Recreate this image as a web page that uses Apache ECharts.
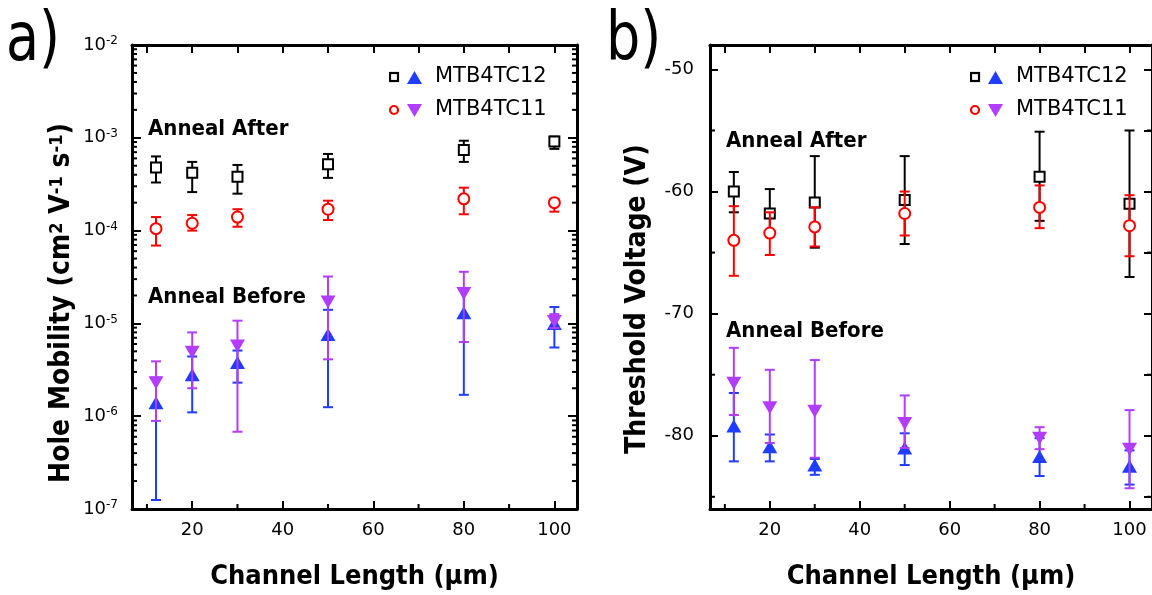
<!DOCTYPE html>
<html><head><meta charset="utf-8">
<script src="https://cdn.jsdelivr.net/npm/echarts@6/dist/echarts.min.js"></script>
<style>html,body{margin:0;padding:0;background:#fff}#c{width:1152px;height:595px}</style>
</head><body><div id="c"></div>
<script>
// ---------- data ----------
const lengths = [12, 20, 30, 50, 80, 100];

// (a) hole mobility, cm2 V-1 s-1
const mob12After   = [4.8e-4, 4.2e-4, 3.8e-4, 5.2e-4, 7.4e-4, 9.1e-4];
const mob12AfterLo = [3.3e-4, 2.6e-4, 2.5e-4, 3.7e-4, 5.5e-4, 7.6e-4];
const mob12AfterHi = [6.3e-4, 5.5e-4, 5.1e-4, 6.7e-4, 9.3e-4, 1.03e-3];
const mob11After   = [1.05e-4, 1.2e-4, 1.4e-4, 1.7e-4, 2.2e-4, 2.0e-4];
const mob11AfterLo = [6.9e-5, 1.0e-4, 1.1e-4, 1.3e-4, 1.5e-4, 1.6e-4];
const mob11AfterHi = [1.4e-4, 1.47e-4, 1.7e-4, 2.1e-4, 2.9e-4, 2.2e-4];
const mob12Before   = [1.4e-6, 2.8e-6, 3.8e-6, 7.6e-6, 1.3e-5, 1.0e-5];
const mob12BeforeLo = [1.25e-7, 1.1e-6, 2.3e-6, 1.25e-6, 1.7e-6, 5.5e-6];
const mob12BeforeHi = [2.6e-6, 4.4e-6, 5.1e-6, 1.4e-5, 2.3e-5, 1.5e-5];
const mob11Before   = [2.3e-6, 4.9e-6, 5.7e-6, 1.7e-5, 2.1e-5, 1.05e-5];
const mob11BeforeLo = [8.9e-7, 2.0e-6, 6.8e-7, 4.1e-6, 6.3e-6, 8.9e-6];
const mob11BeforeHi = [3.9e-6, 8.0e-6, 1.07e-5, 3.2e-5, 3.6e-5, 1.26e-5];

// (b) threshold voltage, V
const vt12After   = [-60.0, -61.8, -60.9, -60.7, -58.8, -61.0];
const vt12AfterLo = [-61.7, -63.6, -64.6, -64.3, -62.4, -67.0];
const vt12AfterHi = [-58.4, -59.8, -57.1, -57.1, -55.1, -55.0];
const vt11After   = [-64.0, -63.4, -62.9, -61.8, -61.3, -62.8];
const vt11AfterLo = [-66.9, -65.2, -64.5, -63.6, -63.0, -65.3];
const vt11AfterHi = [-61.2, -61.7, -61.3, -60.0, -59.5, -60.3];
const vt11Before   = [-75.7, -77.7, -78.0, -79.0, -80.2, -81.1];
const vt11BeforeLo = [-78.3, -80.6, -81.8, -81.0, -81.1, -84.3];
const vt11BeforeHi = [-72.8, -74.6, -73.8, -76.7, -79.3, -77.9];
const vt12Before   = [-79.2, -80.9, -82.4, -81.0, -81.7, -82.5];
const vt12BeforeLo = [-82.1, -82.1, -83.2, -82.4, -83.3, -84.0];
const vt12BeforeHi = [-76.5, -79.9, -81.9, -79.8, -80.2, -81.2];

// ticks
const xLabelTicks = [20, 40, 60, 80, 100];
const xMinorTicks = [10, 30, 50, 70, 90];
const xTopTicks = [10, 20, 30, 40, 50, 60, 70, 80, 90, 100];
const mobDecades = [1e-7, 1e-6, 1e-5, 1e-4, 1e-3, 1e-2];
const vtLabelTicks = [-80, -70, -60, -50];
const vtMinorTicks = [-85, -75, -65, -55];
const vtAllTicks = [-85, -80, -75, -70, -65, -60, -55, -50];

const mobMinorTicks = [];
mobDecades.slice(0, -1).forEach(d => { for (let k = 2; k <= 9; k++) mobMinorTicks.push(+(k * d).toPrecision(3)); });

// ---------- style ----------
const FONT = "'DejaVu Sans', sans-serif";
const BOLD = "'DejaVu Sans Condensed', 'Liberation Sans', sans-serif";
const BLACK = '#000000', RED = '#ff0000', BLUE = '#1f3cff', PURPLE = '#b23cff';
const XMIN = 6.7, XMAX = 105;
const YLIM = [[1e-7, 1e-2], [-86, -48]];

function xAxisDef(grid, pos) {
  const a = {
    type: 'value', gridIndex: grid, min: XMIN, max: XMAX, position: pos,
    splitLine: { show: false },
    axisLine: { show: true, onZero: false, lineStyle: { color: BLACK, width: 3 } },
    axisLabel: { show: false },
    axisTick: { show: true, inside: true, length: 8, lineStyle: { color: BLACK, width: 2 },
                customValues: pos === 'top' ? xTopTicks : xLabelTicks }
  };
  if (pos === 'bottom') {
    a.axisLabel = { show: true, customValues: xLabelTicks, margin: 12, fontSize: 18, fontFamily: FONT, color: BLACK };
    a.name = 'Channel Length (\u03bcm)';
    a.nameLocation = 'middle';
    a.nameGap = 54;
    a.nameTextStyle = { fontSize: 27, fontWeight: 'bold', fontFamily: BOLD, color: BLACK };
  }
  return a;
}

function yAxisDef(grid, pos) {
  const isLog = grid === 0;
  const a = {
    type: isLog ? 'log' : 'value', gridIndex: grid, position: pos,
    min: YLIM[grid][0], max: YLIM[grid][1],
    splitLine: { show: false },
    axisLine: { show: true, onZero: false, lineStyle: { color: BLACK, width: 3 } },
    axisLabel: { show: false },
    axisTick: { show: true, inside: true, length: isLog ? 9 : 8, lineStyle: { color: BLACK, width: 2 },
                customValues: isLog ? mobDecades : (pos === 'right' ? vtAllTicks : vtLabelTicks) }
  };
  if (isLog) a.logBase = 10;
  if (pos === 'left') {
    a.nameLocation = 'middle';
    if (isLog) {
      a.axisLabel = {
        show: true, customValues: mobDecades, margin: 14, color: BLACK,
        formatter: v => '{b|10}{s|' + Math.round(Math.log10(v)) + '}',
        rich: {
          b: { fontSize: 18, fontFamily: FONT, color: BLACK, lineHeight: 20 },
          s: { fontSize: 12, fontFamily: FONT, color: BLACK, verticalAlign: 'top', lineHeight: 12 }
        }
      };
      a.name = 'Hole Mobility (cm{s|2} V{s|-1} s{s|-1})';
      a.nameGap = 56;
      a.nameTextStyle = {
        fontSize: 28, fontWeight: 'bold', fontFamily: BOLD, color: BLACK, padding: [0, 52, 0, 0],
        rich: { s: { fontSize: 18, fontWeight: 'bold', fontFamily: BOLD, color: BLACK, verticalAlign: 'top' } }
      };
    } else {
      a.axisLabel = { show: true, customValues: vtLabelTicks, margin: 16, fontSize: 18, fontFamily: FONT, color: BLACK };
      a.name = 'Threshold Voltage (V)';
      a.nameGap = 58;
      a.nameTextStyle = { fontSize: 28, fontWeight: 'bold', fontFamily: BOLD, color: BLACK, padding: [0, 44, 0, 0] };
    }
  }
  return a;
}

// short inward minor ticks, placed through the axes' own scales
const tickStyle = { stroke: BLACK, lineWidth: 2 };
function xMinorSeries(xi, yi, grid) {
  return {
    type: 'custom', xAxisIndex: xi, yAxisIndex: yi, silent: true, clip: false, z: 1,
    data: xMinorTicks.map(v => [v, YLIM[grid][0]]), encode: { x: 0, y: 1 },
    renderItem: (params, api) => {
      const b = api.coord([api.value(0), api.value(1)]);
      return { type: 'line', shape: { x1: b[0], y1: b[1], x2: b[0], y2: b[1] - 5 }, style: tickStyle };
    }
  };
}
function yMinorSeries(xi, yi, ticks) {
  return {
    type: 'custom', xAxisIndex: xi, yAxisIndex: yi, silent: true, clip: false, z: 1,
    data: ticks.map(v => [XMIN, v, XMAX]), encode: { x: [0, 2], y: 1 },
    renderItem: (params, api) => {
      const l = api.coord([api.value(0), api.value(1)]);
      const r = api.coord([api.value(2), api.value(1)]);
      return { type: 'group', children: [
        { type: 'line', shape: { x1: l[0], y1: l[1], x2: l[0] + 5, y2: l[1] }, style: tickStyle },
        { type: 'line', shape: { x1: r[0], y1: r[1], x2: r[0] - 5, y2: r[1] }, style: tickStyle }
      ] };
    }
  };
}

function errSeries(xi, yi, lo, hi, color, z) {
  return {
    type: 'custom', xAxisIndex: xi, yAxisIndex: yi, silent: true, clip: false, z: z,
    data: lengths.map((x, i) => [x, lo[i], hi[i]]),
    encode: { x: 0, y: [1, 2] },
    renderItem: (params, api) => {
      const x = api.value(0);
      const a = api.coord([x, api.value(1)]);
      const b = api.coord([x, api.value(2)]);
      const w = 5, st = { stroke: color, lineWidth: 2 };
      return { type: 'group', children: [
        { type: 'line', shape: { x1: a[0], y1: a[1], x2: b[0], y2: b[1] }, style: st },
        { type: 'line', shape: { x1: a[0] - w, y1: a[1], x2: a[0] + w, y2: a[1] }, style: st },
        { type: 'line', shape: { x1: b[0] - w, y1: b[1], x2: b[0] + w, y2: b[1] }, style: st }
      ] };
    }
  };
}

function ptSeries(xi, yi, vals, name, symbol, size, itemStyle, rotate, z) {
  return {
    type: 'scatter', name: name, xAxisIndex: xi, yAxisIndex: yi, z: z,
    data: lengths.map((x, i) => [x, vals[i]]),
    symbol: symbol, symbolSize: size, symbolRotate: rotate || 0,
    itemStyle: itemStyle, silent: true
  };
}

const sqStyle = { color: '#ffffff', borderColor: BLACK, borderWidth: 2, opacity: 1 };
const ciStyle = { color: '#ffffff', borderColor: RED, borderWidth: 2, opacity: 1 };
const upStyle = { color: BLUE, borderWidth: 0, opacity: 1 };
const dnStyle = { color: PURPLE, borderWidth: 0, opacity: 1 };

function panelSeries(xi, yi, d) {
  return [
    errSeries(xi, yi, d.a12lo, d.a12hi, BLACK, 2),
    ptSeries(xi, yi, d.a12, 'MTB4TC12', 'rect', 10, sqStyle, 0, 3),
    errSeries(xi, yi, d.a11lo, d.a11hi, RED, 4),
    ptSeries(xi, yi, d.a11, 'MTB4TC11', 'circle', 11, ciStyle, 0, 5),
    errSeries(xi, yi, d.b12lo, d.b12hi, BLUE, 6),
    ptSeries(xi, yi, d.b12, 'MTB4TC12 before', 'triangle', [15, 13], upStyle, 0, 7),
    errSeries(xi, yi, d.b11lo, d.b11hi, PURPLE, 8),
    ptSeries(xi, yi, d.b11, 'MTB4TC11 before', 'triangle', [15, 13], dnStyle, 180, 9)
  ];
}

const svg12 = '<svg xmlns="http://www.w3.org/2000/svg" width="41" height="16" viewBox="0 0 41 16"><rect x="1" y="4" width="8" height="8" fill="white" stroke="black" stroke-width="2.2"/><polygon points="18,15 33,15 25.5,2" fill="' + BLUE + '"/></svg>';
const svg11 = '<svg xmlns="http://www.w3.org/2000/svg" width="41" height="16" viewBox="0 0 41 16"><circle cx="5" cy="8" r="4" fill="white" stroke="' + RED + '" stroke-width="2.2"/><polygon points="18,2 33,2 25.5,15" fill="' + PURPLE + '"/></svg>';
const icon12 = 'image://data:image/svg+xml;charset=utf-8,' + encodeURIComponent(svg12);
const icon11 = 'image://data:image/svg+xml;charset=utf-8,' + encodeURIComponent(svg11);

function legendDef(left) {
  return {
    orient: 'vertical', left: left, top: 66, padding: 0, itemWidth: 41, itemHeight: 16, itemGap: 11,
    selectedMode: false,
    textStyle: { fontSize: 21, fontFamily: FONT, color: BLACK, lineHeight: 22 },
    data: [{ name: 'MTB4TC12', icon: icon12 }, { name: 'MTB4TC11', icon: icon11 }]
  };
}

function label(x, y, text) {
  return { type: 'text', x: x, y: y, silent: true, style: { text: text, fontSize: 22, fontWeight: 'bold', fontFamily: BOLD, fill: BLACK, verticalAlign: 'middle' } };
}
function panel(x, text) {
  return { type: 'text', x: x, y: 42, scaleY: 1.25, silent: true, style: { text: text, fontSize: 54, fontFamily: FONT, fill: BLACK, verticalAlign: 'middle' } };
}

const option = {
  animation: false,
  backgroundColor: '#ffffff',
  grid: [
    { left: 132, right: 575, top: 45, bottom: 85 },
    { left: 710, right: -3, top: 45, bottom: 83 }
  ],
  xAxis: [ xAxisDef(0, 'bottom'), xAxisDef(0, 'top'), xAxisDef(1, 'bottom'), xAxisDef(1, 'top') ],
  yAxis: [ yAxisDef(0, 'left'), yAxisDef(0, 'right'), yAxisDef(1, 'left'), yAxisDef(1, 'right') ],
  legend: [legendDef(389), legendDef(970)],
  graphic: [
    panel(6, 'a)'), panel(606, 'b)'),
    label(148, 129, 'Anneal After'), label(148, 297, 'Anneal Before'),
    label(726, 141, 'Anneal After'), label(726, 331, 'Anneal Before')
  ],
  series: [].concat(
    [xMinorSeries(0, 0, 0), yMinorSeries(0, 0, mobMinorTicks),
     xMinorSeries(2, 2, 1), yMinorSeries(2, 2, vtMinorTicks)],
    panelSeries(0, 0, {
      a12: mob12After, a12lo: mob12AfterLo, a12hi: mob12AfterHi,
      a11: mob11After, a11lo: mob11AfterLo, a11hi: mob11AfterHi,
      b12: mob12Before, b12lo: mob12BeforeLo, b12hi: mob12BeforeHi,
      b11: mob11Before, b11lo: mob11BeforeLo, b11hi: mob11BeforeHi
    }),
    panelSeries(2, 2, {
      a12: vt12After, a12lo: vt12AfterLo, a12hi: vt12AfterHi,
      a11: vt11After, a11lo: vt11AfterLo, a11hi: vt11AfterHi,
      b12: vt12Before, b12lo: vt12BeforeLo, b12hi: vt12BeforeHi,
      b11: vt11Before, b11lo: vt11BeforeLo, b11hi: vt11BeforeHi
    })
  )
};

const chart = echarts.init(document.getElementById('c'), null, { renderer: 'canvas' });
chart.setOption(option);
</script>
</body></html>
